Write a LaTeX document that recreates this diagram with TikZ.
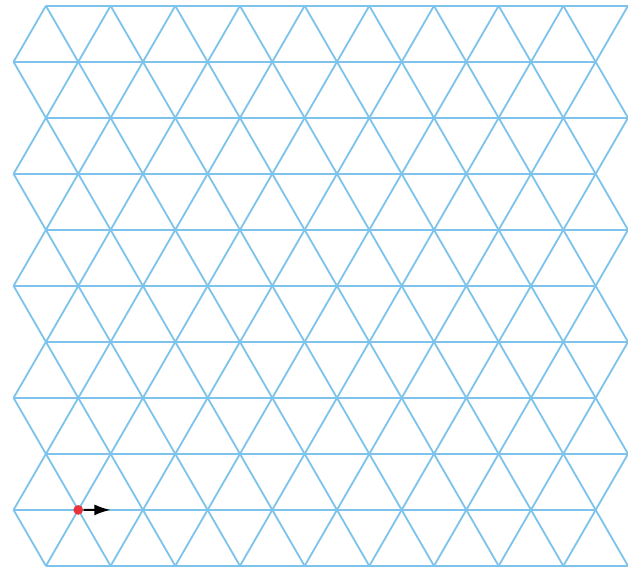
\documentclass[tikz,border=0pt]{standalone}
\usepackage{tikz}
\usetikzlibrary{arrows.meta,calc}
\definecolor{lattice}{HTML}{7DC3EB}
\definecolor{site}{HTML}{E8333A}

\begin{document}
\begin{tikzpicture}[
  edge/.style={lattice,line width=0.8pt},
  arr/.style={-{Latex[length=2.5mm,width=1.7mm]},line width=0.9pt}
]
\useasboundingbox (-0.71,-0.02) rectangle (9.0,8.75);
% lattice sites, row j from the bottom
\foreach \j in {0,...,10}{
  \foreach \k in {0,...,9}{
    \pgfmathsetmacro{\xx}{\k-0.5*mod(\j,2)}
    \coordinate (v-\j-\k) at (\xx,{0.866*\j});
  }
}
% horizontal bonds
\foreach \j in {0,...,10}
  \draw[edge] (v-\j-0) -- (v-\j-9);
% slanted bonds
\foreach \j [evaluate=\j as \n using int(\j+1)] in {0,...,9}{
  \foreach \k in {0,...,9}
    \draw[edge] (v-\j-\k) -- (v-\n-\k);
  \foreach \k [evaluate=\k as \m using int(\k+1)] in {0,...,8}{
    \ifodd\j\relax
      \draw[edge] (v-\j-\m) -- (v-\n-\k);
    \else
      \draw[edge] (v-\j-\k) -- (v-\n-\m);
    \fi
  }
}
% walker and its step
\node[circle,fill=site,inner sep=0pt,minimum size=1.5mm] (walker) at (v-1-1) {};
\coordinate (step-end) at ($(v-1-1)!0.5!(v-1-2)$);
\draw[arr] (walker) -- (step-end);
\end{tikzpicture}
\end{document}
